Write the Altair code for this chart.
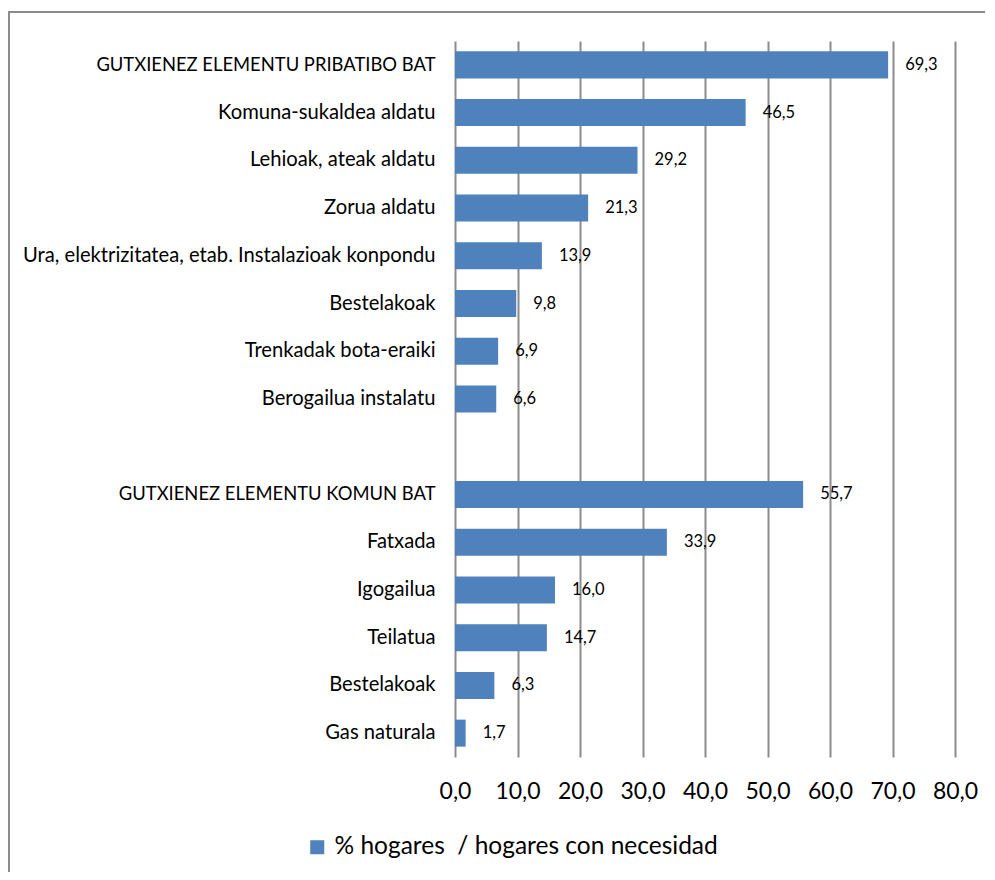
import altair as alt
import pandas as pd

categories = [
    "GUTXIENEZ ELEMENTU PRIBATIBO BAT",
    "Komuna-sukaldea aldatu",
    "Lehioak, ateak aldatu",
    "Zorua aldatu",
    "Ura, elektrizitatea, etab. Instalazioak konpondu",
    "Bestelakoak",
    "Trenkadak bota-eraiki",
    "Berogailua instalatu",
    "",
    "GUTXIENEZ ELEMENTU KOMUN BAT",
    "Fatxada",
    "Igogailua",
    "Teilatua",
    "Bestelakoak",
    "Gas naturala",
]
values = [69.3, 46.5, 29.2, 21.3, 13.9, 9.8, 6.9, 6.6, None,
          55.7, 33.9, 16.0, 14.7, 6.3, 1.7]
x_ticks = [0, 10, 20, 30, 40, 50, 60, 70, 80]
series_name = "% hogares\u00a0 / hogares con necesidad"

rows = [
    {"idx": i, "value": v, "serie": series_name}
    for i, v in enumerate(values) if v is not None
]
df = pd.DataFrame(rows)

label_expr = "[" + ",".join("'" + c + "'" for c in categories) + "][datum.value]"
FONT = "Lato"
GRID = "#8c8c8c"
BLUE = "#4F81BD"

y_enc = alt.Y(
    "idx:O",
    scale=alt.Scale(domain=list(range(len(categories))), paddingInner=0.434, paddingOuter=0.217),
    axis=alt.Axis(title=None, labelExpr=label_expr, domain=False, ticks=False,
                  labelPadding=20, labelFont=FONT,
                  labelFontSize={"condition": {"test": "datum.value == 0 || datum.value == 9", "value": 18.4},
                                 "value": 20.2},
                  labelColor="#000000", labelLimit=600),
)
x_enc = alt.X(
    "value:Q",
    scale=alt.Scale(domain=[0, 80], nice=False),
    axis=alt.Axis(title=None, values=x_ticks, labelExpr="replace(format(datum.value, '.1f'), '.', ',')",
                  grid=True, gridColor=GRID, gridWidth=2, domain=False, ticks=False,
                  labelFlush=False, labelOverlap=False,
                  labelPadding=23, labelFont=FONT, labelFontSize=23, labelColor="#000000"),
)

base = alt.Chart(df)

bars = base.mark_bar(color=BLUE).encode(
    x=x_enc,
    y=y_enc,
    color=alt.Color("serie:N", scale=alt.Scale(range=[BLUE]),
                    legend=alt.Legend(title=None, orient="none", legendX=-150, legendY=794,
                                      symbolType="square", symbolSize=196, symbolStrokeWidth=0,
                                      labelFont=FONT, labelFontSize=24.5, labelColor="#000000",
                                      labelOffset=5, labelLimit=800)),
)

texts = base.mark_text(align="left", baseline="middle", dx=17, font=FONT, fontSize=16.5, color="#000000").encode(
    x="value:Q",
    y=alt.Y("idx:O"),
    text=alt.Text("label:N"),
).transform_calculate(label="replace(format(datum.value, '.1f'), '.', ',')")

frame = alt.Chart(pd.DataFrame({"a": [0]})).mark_rect(
    fill="transparent", stroke="#8c8c8c", strokeWidth=2
).encode(
    x=alt.value(-446), x2=alt.value(700), y=alt.value(-29), y2=alt.value(950)
)

chart = alt.layer(frame, bars, texts).properties(
    width=500, height=716,
    padding={"left": 447, "top": 33, "right": 30, "bottom": 115},
    autosize=alt.AutoSizeParams(type="none"),
).configure_view(stroke=None)

chart.save("out.html", embed_options={"renderer": "svg", "actions": False})
